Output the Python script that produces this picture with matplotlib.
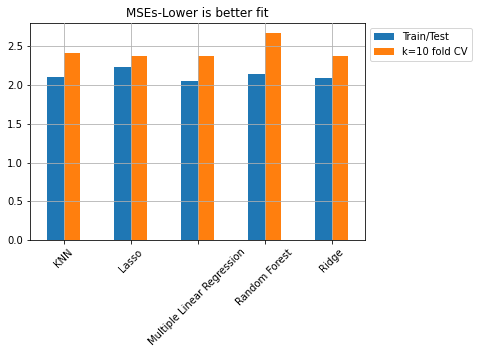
import numpy as np
import pandas as pd
import matplotlib
matplotlib.use("Agg")
import matplotlib.pyplot as plt

models = ["KNN", "Lasso", "Multiple Linear Regression", "Random Forest", "Ridge"]
train_test = [2.10, 2.24, 2.05, 2.14, 2.09]
kfold_cv = [2.42, 2.38, 2.38, 2.67, 2.38]

df = pd.DataFrame({"Train/Test": train_test, "k=10 fold CV": kfold_cv}, index=models)

fig = plt.figure(figsize=(478 / 72, 355 / 72), dpi=72)
ax = fig.add_axes([30 / 478, 1 - 240 / 355, 335 / 478, 217 / 355])
df.plot(kind="bar", ax=ax, grid=True, color=["#1f77b4", "#ff7f0e"])
ax.set_title("MSEs-Lower is better fit", fontsize=12)
ax.set_axisbelow(False)
plt.setp(ax.get_xticklabels(), rotation=45)
ax.legend(loc="upper left", bbox_to_anchor=(1.0, 1.0))
fig.savefig("out.png", dpi=72)
